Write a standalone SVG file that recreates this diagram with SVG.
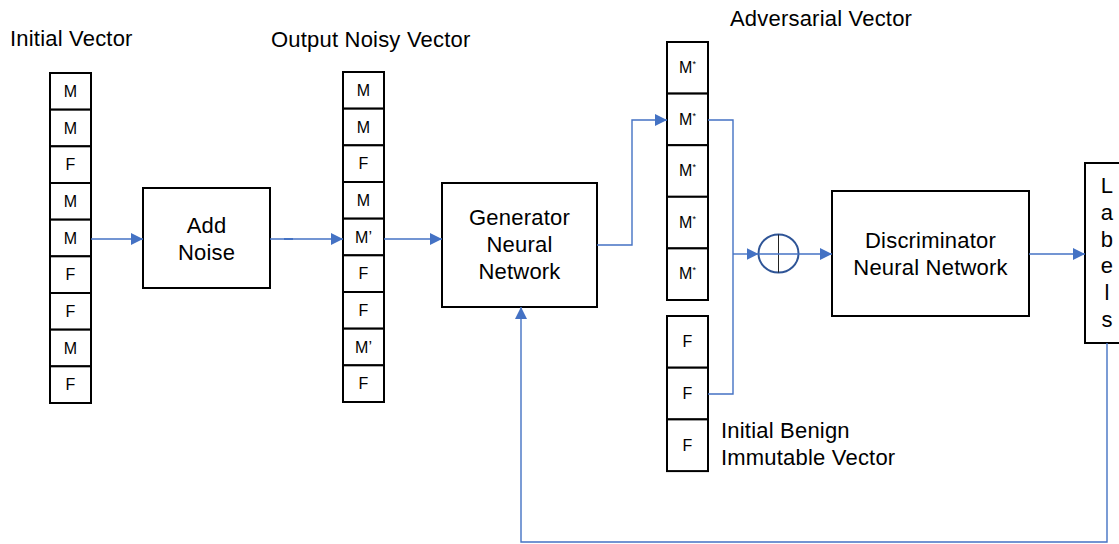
<svg xmlns="http://www.w3.org/2000/svg" width="1119" height="544" viewBox="0 0 1119 544">
<style>
.box{fill:#fff;stroke:#000;stroke-width:2}
.cell{fill:#fff;stroke:#000;stroke-width:2}
.t{font-family:"Liberation Sans",Arial,sans-serif;font-size:22px;letter-spacing:0.2px;fill:#000}
.c{font-family:"Liberation Sans",Arial,sans-serif;font-size:16px;fill:#000;text-anchor:middle}
.s{font-size:9px}
.m{text-anchor:middle}
.con{fill:none;stroke:#4472C4;stroke-width:1.4}
</style>
<defs>
<marker id="ah" markerUnits="userSpaceOnUse" markerWidth="12" markerHeight="12" refX="12" refY="6" orient="auto">
<path d="M0,0 L12,6 L0,12 z" fill="#4472C4"/>
</marker>
</defs>

<text class="t" x="10" y="46">Initial Vector</text>
<text class="t" x="271" y="47">Output Noisy Vector</text>
<text class="t" x="730" y="26">Adversarial Vector</text>

<g id="initial-vector">
<rect class="cell" x="50" y="73" width="41" height="36.67"/>
<rect class="cell" x="50" y="109.67" width="41" height="36.67"/>
<rect class="cell" x="50" y="146.33" width="41" height="36.67"/>
<rect class="cell" x="50" y="183" width="41" height="36.67"/>
<rect class="cell" x="50" y="219.67" width="41" height="36.67"/>
<rect class="cell" x="50" y="256.33" width="41" height="36.67"/>
<rect class="cell" x="50" y="293" width="41" height="36.67"/>
<rect class="cell" x="50" y="329.67" width="41" height="36.67"/>
<rect class="cell" x="50" y="366.33" width="41" height="36.67"/>
<text class="c" x="70.5" y="97">M</text>
<text class="c" x="70.5" y="133.5">M</text>
<text class="c" x="70.5" y="170">F</text>
<text class="c" x="70.5" y="207">M</text>
<text class="c" x="70.5" y="243.5">M</text>
<text class="c" x="70.5" y="280">F</text>
<text class="c" x="70.5" y="317">F</text>
<text class="c" x="70.5" y="353.5">M</text>
<text class="c" x="70.5" y="390">F</text>
</g>

<g id="add-noise">
<rect class="box" x="143" y="188" width="127" height="100"/>
<text class="t m" x="206.5" y="233">Add</text>
<text class="t m" x="206.5" y="260">Noise</text>
</g>

<g id="output-noisy-vector">
<rect class="cell" x="343" y="72" width="41" height="36.67"/>
<rect class="cell" x="343" y="108.67" width="41" height="36.67"/>
<rect class="cell" x="343" y="145.33" width="41" height="36.67"/>
<rect class="cell" x="343" y="182" width="41" height="36.67"/>
<rect class="cell" x="343" y="218.67" width="41" height="36.67"/>
<rect class="cell" x="343" y="255.33" width="41" height="36.67"/>
<rect class="cell" x="343" y="292" width="41" height="36.67"/>
<rect class="cell" x="343" y="328.67" width="41" height="36.67"/>
<rect class="cell" x="343" y="365.33" width="41" height="36.67"/>
<text class="c" x="363.5" y="96">M</text>
<text class="c" x="363.5" y="132.5">M</text>
<text class="c" x="363.5" y="169">F</text>
<text class="c" x="363.5" y="206">M</text>
<text class="c" x="363.5" y="242.5">M’</text>
<text class="c" x="363.5" y="279">F</text>
<text class="c" x="363.5" y="316">F</text>
<text class="c" x="363.5" y="352.5">M’</text>
<text class="c" x="363.5" y="389">F</text>
</g>

<g id="generator">
<rect class="box" x="442" y="183" width="155" height="124"/>
<text class="t m" x="519.5" y="225">Generator</text>
<text class="t m" x="519.5" y="252">Neural</text>
<text class="t m" x="519.5" y="279">Network</text>
</g>

<g id="adversarial-vector">
<rect class="cell" x="667" y="42" width="41" height="51.6"/>
<rect class="cell" x="667" y="93.6" width="41" height="51.6"/>
<rect class="cell" x="667" y="145.2" width="41" height="51.6"/>
<rect class="cell" x="667" y="196.8" width="41" height="51.6"/>
<rect class="cell" x="667" y="248.4" width="41" height="51.6"/>
<text class="c" x="687.5" y="73">M<tspan class="s" dy="-6">*</tspan></text>
<text class="c" x="687.5" y="124.5">M<tspan class="s" dy="-6">*</tspan></text>
<text class="c" x="687.5" y="176">M<tspan class="s" dy="-6">*</tspan></text>
<text class="c" x="687.5" y="227.5">M<tspan class="s" dy="-6">*</tspan></text>
<text class="c" x="687.5" y="279">M<tspan class="s" dy="-6">*</tspan></text>
</g>

<g id="benign-vector">
<rect class="cell" x="667" y="316" width="41" height="51.7"/>
<rect class="cell" x="667" y="367.7" width="41" height="51.7"/>
<rect class="cell" x="667" y="419.4" width="41" height="51.7"/>
<text class="c" x="687.5" y="347">F</text>
<text class="c" x="687.5" y="399">F</text>
<text class="c" x="687.5" y="450.5">F</text>
<text class="t" x="721" y="438">Initial Benign</text>
<text class="t" x="721" y="465">Immutable Vector</text>
</g>

<g id="combine">
<ellipse cx="778.5" cy="253.5" rx="20" ry="19" fill="#fff" stroke="#2F5597" stroke-width="2"/>
<line x1="778.5" y1="234.5" x2="778.5" y2="272.5" stroke="#222" stroke-width="1"/>
</g>

<g id="discriminator">
<rect class="box" x="832" y="191" width="197" height="125"/>
<text class="t m" x="930.5" y="248">Discriminator</text>
<text class="t m" x="930.5" y="275">Neural Network</text>
</g>

<g id="labels">
<rect class="box" x="1085" y="163" width="40" height="180"/>
<text class="t m" x="1107" y="193">L</text>
<text class="t m" x="1107" y="220">a</text>
<text class="t m" x="1107" y="247">b</text>
<text class="t m" x="1107" y="273">e</text>
<text class="t m" x="1107" y="300">l</text>
<text class="t m" x="1107" y="327">s</text>
</g>

<g id="connectors">
<path class="con" d="M91,239 H143" marker-end="url(#ah)"/>
<path class="con" d="M270,239 H343" marker-end="url(#ah)"/>
<line x1="284" y1="239" x2="293" y2="239" stroke="#4472C4" stroke-width="2"/>
<path class="con" d="M384,239 H442" marker-end="url(#ah)"/>
<path class="con" d="M597,245 H632 V120 H667" marker-end="url(#ah)"/>
<path class="con" d="M708,120 H733 V254"/>
<path class="con" d="M708,394 H733 V254"/>
<path class="con" d="M733,254 H758.5" marker-end="url(#ah)"/>
<path class="con" d="M758.5,254 H798.5"/>
<path class="con" d="M798.5,254 H832" marker-end="url(#ah)"/>
<path class="con" d="M1029,254 H1085" marker-end="url(#ah)"/>
<path class="con" d="M1107,343 V542 H521 V307" marker-end="url(#ah)"/>
</g>
</svg>
